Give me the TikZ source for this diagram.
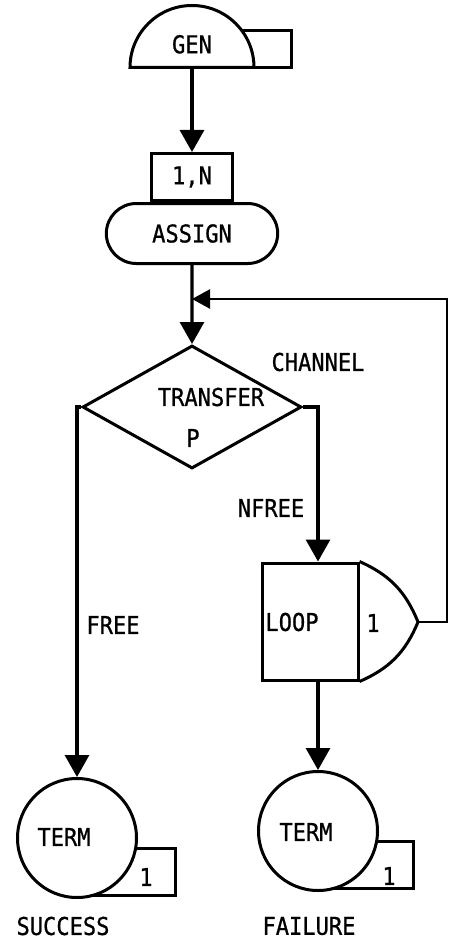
\documentclass[tikz,border=0pt]{standalone}
\usepackage{fontspec}
\setmonofont{DejaVu Sans Mono}[FakeStretch=0.9, FakeBold=0.8]
\usetikzlibrary{shapes.geometric, shapes.misc, arrows.meta, positioning, calc}
\tikzset{
  block/.style={
    rectangle, draw, fill=white, line width=3pt, inner sep=0pt
  },
  gensrc/.style={
    semicircle, draw, fill=white, line width=3pt, inner sep=0pt,
    minimum width=124pt
  },
  assignbox/.style={
    rounded rectangle, draw, fill=white, line width=3pt,
    minimum width=178pt, minimum height=60pt
  },
  decision/.style={
    diamond, draw, line width=3pt, inner sep=0pt,
    minimum width=219pt, minimum height=123pt
  },
  term/.style={
    circle, draw, fill=white, line width=3pt,
    minimum size=119pt, inner sep=0pt
  },
  arrow/.style={line width=3.2pt, -{Triangle[width=24pt,length=22pt]}},
  feedback/.style={line width=2.4pt, -{Triangle[width=19pt,length=18pt]}},
}

\begin{document}
\begin{tikzpicture}[x=1pt, y=-1pt,
    every node/.style={font=\ttfamily\fontsize{24.5}{28}\selectfont}]
  \useasboundingbox (0,0) rectangle (449,939);

  % generate and assign
  \node (genq)   [block, minimum width=80pt, minimum height=37pt, anchor=south east] at (293,69) {};
  \node (gen)    [gensrc, anchor=chord center] at (192,69) {GEN};
  \node (param)  [block, minimum width=81pt, minimum height=47pt] at (192,177) {1,N};
  \node (assign) [assignbox, below=0pt of param] {ASSIGN};
  \coordinate (join) at (192,299);

  % transfer
  \node (transfer)    [decision] at (192,407) {};
  \node (transferlbl) at (211,397) {TRANSFER};
  \node (plbl)        at (193,438) {P};
  \node (channellbl)  at (318,362) {CHANNEL};
  \node (nfreelbl)    at (271,508) {NFREE};
  \node (freelbl)     at (113,625) {FREE};

  % loop gate
  \node (loop)    [block, minimum width=96pt, minimum height=117pt] at (310,621.5) {};
  \node (looplbl) at (292,622) {LOOP};
  \coordinate (loopout) at (418,622);
  \draw [line width=3pt] (loop.north east) to[bend left=22] (loopout)
    to[bend left=22] (loop.south east);
  \node (gatelbl) at (373,623) {1};

  % terminations
  \node (sucq)     [block, minimum width=90pt, minimum height=47pt, anchor=south east] at (177,897) {};
  \node (success)  [term] at (77,838) {};
  \node (sucterm)  at (64,837) {TERM};
  \node (sucnum)   at (146,877) {1};
  \node (sucname)  at (63,926) {SUCCESS};
  \node (failq)    [block, minimum width=85pt, minimum height=47pt, anchor=south east] at (415,890) {};
  \node (failure)  [term] at (318,831) {};
  \node (failterm) at (306,832) {TERM};
  \node (failnum)  at (389,876) {1};
  \node (failname) at (309,926) {FAILURE};

  \draw [arrow] (gen.chord center) -- (param.north);
  \draw [arrow] (assign) -- (transfer);
  \draw [arrow] (transfer.west) -| (success);
  \draw [arrow] (transfer.east) -| (failure |- loop.north);
  \draw [arrow] (failure |- loop.south) -- (failure);
  \draw [feedback] (loopout) -- ++(29,0) |- (join);
\end{tikzpicture}
\end{document}
